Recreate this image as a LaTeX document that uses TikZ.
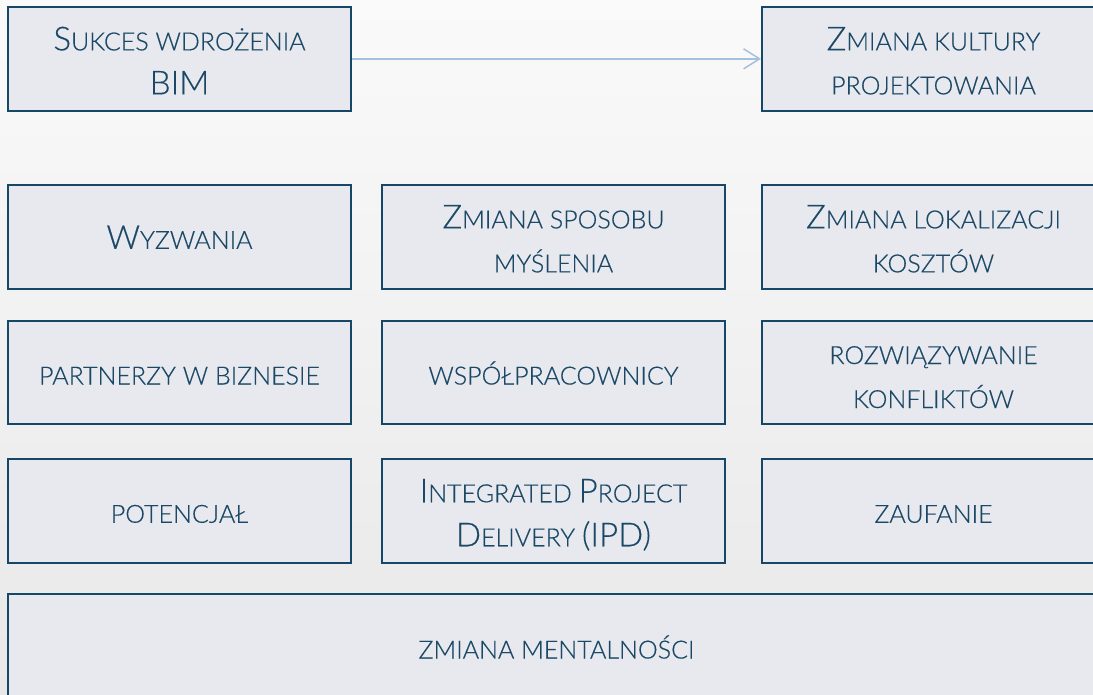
\documentclass[tikz,border=0pt]{standalone}
\usepackage{fontspec}
\setmainfont{Lato Light}[FakeBold=0.4]
\usetikzlibrary{arrows.meta}
\definecolor{txt}{HTML}{1A4866}
\definecolor{bordc}{HTML}{174766}
\definecolor{boxfill}{HTML}{E8E9EE}
\definecolor{arrowc}{HTML}{A6C1DE}
\definecolor{bgtop}{HTML}{FAFAFA}
\definecolor{bgbot}{HTML}{E8E8E8}
\newcommand\Bg[1]{{\fontsize{33}{44}\selectfont #1}}
\tikzset{
  box/.style={draw=bordc, line width=2pt, fill=boxfill, minimum width=343pt,
    minimum height=103.5pt, inner sep=0pt, align=center, text=txt,
    font=\fontsize{25}{44}\selectfont},
  oneline/.style={text height=24pt, text depth=0pt},
  twoline/.style={text height=71pt, text depth=0pt},
  widebox/.style={box, minimum width=1097pt, minimum height=105pt},
  arrowline/.style={draw=arrowc, line width=1.5pt,
    -{Straight Barb[length=16pt,width=20pt,line width=1.5pt]}}
}
\begin{document}
\begin{tikzpicture}[x=1pt,y=-1pt]
\useasboundingbox (0,0) rectangle (1093,695);
\clip (0,0) rectangle (1093,695);
\shade[top color=bgtop, bottom color=bgbot] (0,0) rectangle (1093,695);

\node[box,twoline] (a) at (179.5,58.85) {\Bg{S}UKCES WDROŻENIA\\\Bg{BIM}};
\node[box,twoline] (b) at (933.5,58.85) {\Bg{Z}MIANA KULTURY\\PROJEKTOWANIA};
\draw[arrowline] (a) -- (b);

\node[box,oneline] (w) at (179.5,236.85) {\Bg{W}YZWANIA};
\node[box,twoline] (zs) at (553.5,236.85) {\Bg{Z}MIANA SPOSOBU\\MYŚLENIA};
\node[box,twoline] (zl) at (933.5,236.85) {\Bg{Z}MIANA LOKALIZACJI\\KOSZTÓW};

\node[box,oneline] (pb) at (179.5,372.5) {PARTNERZY W BIZNESIE};
\node[box,oneline] (ws) at (553.5,372.5) {WSPÓŁPRACOWNICY};
\node[box,twoline] (rk) at (933.5,372.5) {ROZWIĄZYWANIE\\KONFLIKTÓW};

\node[box,oneline] (po) at (179.5,510.75) {POTENCJAŁ};
\node[box,twoline] (ipd) at (553.5,510.75) {\Bg{I}NTEGRATED \Bg{P}ROJECT\\\Bg{D}ELIVERY \Bg{(IPD)}};
\node[box,oneline] (za) at (933.5,510.75) {ZAUFANIE};

\node[widebox,oneline] (zm) at (556.5,646.5) {ZMIANA MENTALNOŚCI};
\end{tikzpicture}
\end{document}
